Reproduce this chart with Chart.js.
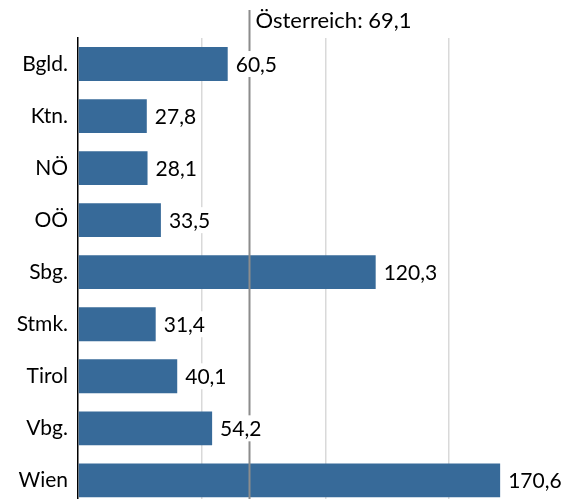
<!DOCTYPE html>
<html>
<head>
<meta charset="utf-8">
<script src="https://cdn.jsdelivr.net/npm/chart.js@4/dist/chart.umd.min.js"></script>
<style>
  html, body { margin: 0; padding: 0; background: #fff; overflow: hidden; }
  canvas { display: block; }
</style>
</head>
<body>
<canvas id="myChart" width="563" height="521"></canvas>
<script>
const regions = ['Bgld.', 'Ktn.', 'NÖ', 'OÖ', 'Sbg.', 'Stmk.', 'Tirol', 'Vbg.', 'Wien'];
const values = [60.5, 27.8, 28.1, 33.5, 120.3, 31.4, 40.1, 54.2, 170.6];
const austria = 69.1;
const austriaLabel = 'Österreich: 69,1';

const fontName = 'Lato, "Open Sans", sans-serif';

function fmt(v) {
    return v.toFixed(1).replace('.', ',');
}

// reference line for Austria plus value labels with white backing
const annotations = {
    id: 'annotations',
    afterDatasetsDraw(chart) {
        const ctx = chart.ctx;
        const x = chart.scales.x;
        const area = chart.chartArea;
        const lx = Math.round(x.getPixelForValue(austria)) + 0.5;

        ctx.save();
        ctx.strokeStyle = '#8c8c8c';
        ctx.lineWidth = 2;
        ctx.beginPath();
        ctx.moveTo(lx, 10);
        ctx.lineTo(lx, area.bottom);
        ctx.stroke();

        ctx.fillStyle = '#000';
        ctx.textBaseline = 'middle';
        ctx.textAlign = 'left';
        ctx.font = '22px ' + fontName;
        ctx.fillText(austriaLabel, lx + 6, 21);

        ctx.font = '21px ' + fontName;
        const meta = chart.getDatasetMeta(0);
        meta.data.forEach(function (bar, i) {
            const txt = fmt(values[i]);
            const w = ctx.measureText(txt).width;
            const tx = bar.x + 8;
            ctx.fillStyle = '#fff';
            ctx.fillRect(tx - 2, bar.y - 13, w + 4, 26);
            ctx.fillStyle = '#000';
            ctx.fillText(txt, tx, bar.y + 1);
        });
        ctx.restore();
    }
};

const data = {
    labels: regions,
    datasets: [{
        data: values,
        backgroundColor: '#376a99',
        borderWidth: 0,
        categoryPercentage: 1,
        barPercentage: 0.65
    }]
};

const config = {
    type: 'bar',
    data,
    options: {
        indexAxis: 'y',
        responsive: false,
        animation: false,
        layout: { padding: { top: 38, right: 0, bottom: 0, left: 0 } },
        plugins: {
            legend: { display: false },
            tooltip: { enabled: false }
        },
        scales: {
            x: {
                min: 0,
                max: 196,
                ticks: { display: false, stepSize: 50 },
                border: { display: false },
                grid: {
                    drawTicks: false,
                    lineWidth: 1.5,
                    color: function (c) {
                        const v = c.tick ? c.tick.value : 0;
                        return (v === 0 || v % 50 !== 0) ? 'rgba(0,0,0,0)' : '#d9d9d9';
                    }
                },
                afterFit(scale) { scale.height = 0; }
            },
            y: {
                grid: { display: false },
                border: { display: true, color: '#000', width: 1.5 },
                ticks: {
                    color: '#000',
                    padding: 2,
                    font: { family: fontName, size: 21 }
                },
                afterFit(scale) { scale.width = 78; }
            }
        }
    },
    plugins: [annotations]
};

const myChart = new Chart(
    document.getElementById('myChart'),
    config
);
</script>
</body>
</html>
